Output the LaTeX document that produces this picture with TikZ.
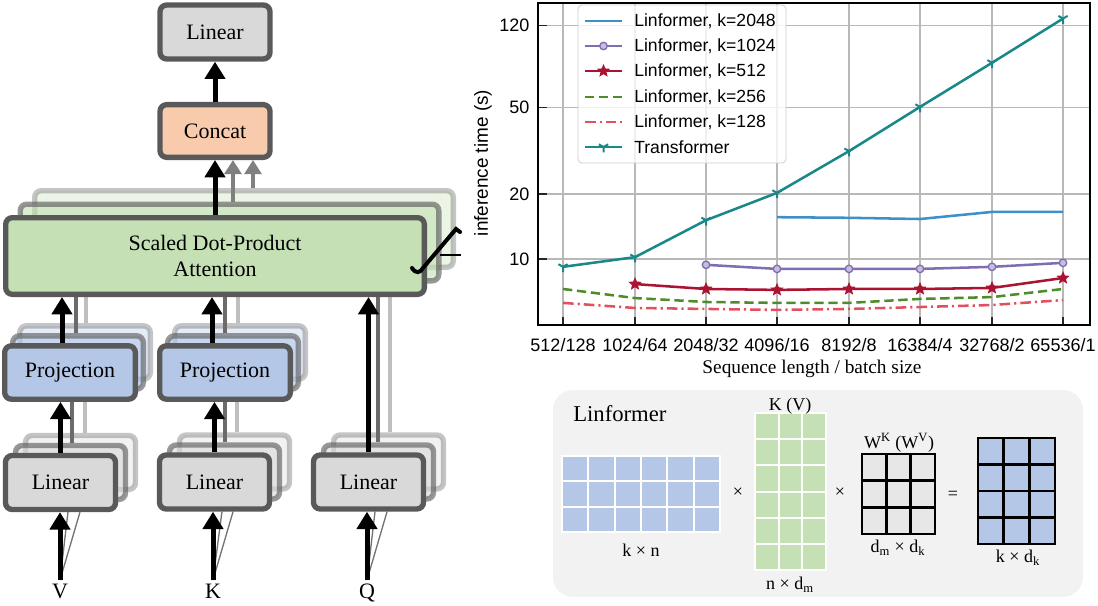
\documentclass[tikz,border=0pt]{standalone}
\usepackage{fontspec}
\setmainfont{Liberation Serif}
\newfontfamily\chartfont{Liberation Sans}
\usetikzlibrary{arrows.meta, plotmarks, backgrounds}
\definecolor{boxgray}{RGB}{89,89,89}
\definecolor{lingray}{RGB}{217,217,217}
\definecolor{concatorange}{RGB}{248,203,173}
\definecolor{attgreen}{RGB}{197,224,180}
\definecolor{projblue}{RGB}{180,199,231}
\definecolor{panelgray}{RGB}{242,242,242}
\definecolor{wgray}{RGB}{231,231,231}
\definecolor{transteal}{RGB}{26,135,137}
\definecolor{kblue}{RGB}{62,145,200}
\definecolor{kpurple}{RGB}{128,110,178}
\definecolor{kcrimson}{RGB}{170,20,50}
\definecolor{kgreen}{RGB}{77,140,40}
\definecolor{kpink}{RGB}{226,80,95}

% filled five-pointed star mark
\pgfdeclareplotmark{fstar}{%
  \pgfpathmoveto{\pgfpointpolar{90}{\pgfplotmarksize}}%
  \pgfpathlineto{\pgfpointpolar{126}{0.45\pgfplotmarksize}}%
  \pgfpathlineto{\pgfpointpolar{162}{\pgfplotmarksize}}%
  \pgfpathlineto{\pgfpointpolar{198}{0.45\pgfplotmarksize}}%
  \pgfpathlineto{\pgfpointpolar{234}{\pgfplotmarksize}}%
  \pgfpathlineto{\pgfpointpolar{270}{0.45\pgfplotmarksize}}%
  \pgfpathlineto{\pgfpointpolar{306}{\pgfplotmarksize}}%
  \pgfpathlineto{\pgfpointpolar{342}{0.45\pgfplotmarksize}}%
  \pgfpathlineto{\pgfpointpolar{18}{\pgfplotmarksize}}%
  \pgfpathlineto{\pgfpointpolar{54}{0.45\pgfplotmarksize}}%
  \pgfpathclose
  \pgfusepathqfillstroke}

\begin{document}
\begin{tikzpicture}[x=0.75pt, y=-0.75pt,
    declare function={ty(\v)=259-216.5*log10(\v/10);},
    blk/.style={draw=boxgray, line width=4pt, rounded corners=5pt, inner sep=0pt, align=center, font=\fontsize{16.5pt}{20pt}\selectfont},
    linbox/.style={blk, fill=lingray, minimum width=82.5pt, minimum height=40.5pt},
    concatbox/.style={blk, fill=concatorange, minimum width=82.5pt, minimum height=39.5pt},
    projbox/.style={blk, fill=projblue, minimum width=98pt, minimum height=40pt},
    attbox/.style={blk, fill=attgreen, minimum width=314pt, minimum height=57.5pt},
    back1/.style={opacity=0.62},
    back2/.style={opacity=0.35},
    inlbl/.style={anchor=north, inner sep=3pt, font=\fontsize{16.5pt}{20pt}\selectfont},
    arr/.style={line width=3.75pt, -{Triangle[width=15pt, length=13pt]}},
    garr/.style={draw=black!50, line width=3pt, -{Triangle[width=12.5pt, length=10.5pt]}},
    gline1/.style={draw=black!58, line width=2.8pt},
    gline2/.style={draw=black!25, line width=2.8pt},
    fan/.style={draw=black!55, line width=1pt},
    gridline/.style={draw=black!28, line width=1pt},
    frame/.style={draw=black, line width=1.3pt},
    tick/.style={draw=black!85, line width=1.1pt},
    ticklbl/.style={font=\chartfont\fontsize{13.5pt}{16pt}\selectfont, inner sep=1pt},
    leglbl/.style={font=\chartfont\fontsize{13.2pt}{16pt}\selectfont, anchor=west, inner sep=0pt},
    trans/.style={draw=transteal, line width=1.9pt, mark size=4pt, mark options={solid, line width=1.5pt}},
    k2048/.style={draw=kblue, line width=1.9pt},
    k1024/.style={draw=kpurple, line width=1.9pt, mark size=2.8pt, mark options={solid, fill=kpurple!45, line width=1pt}},
    k512/.style={draw=kcrimson, line width=1.9pt, mark size=4.2pt, mark options={solid, fill=kcrimson, line width=0.8pt}},
    k256/.style={draw=kgreen, line width=1.9pt, dash pattern=on 7pt off 3.5pt},
    k128/.style={draw=kpink, line width=1.9pt, dash pattern=on 8pt off 3pt on 1.6pt off 3pt},
    mlbl/.style={font=\fontsize{13.5pt}{16pt}\selectfont, inner sep=1pt},
    bcell/.style={fill=projblue, draw=white, line width=1.5pt},
    gcell/.style={fill=attgreen, draw=white, line width=1.5pt},
    wcell/.style={fill=wgray, draw=black, line width=1.8pt},
    rcell/.style={fill=projblue, draw=black, line width=1.8pt}
  ]
  \useasboundingbox (0,0) rectangle (1098,606);

  % Multi-head attention block
  \node[linbox] (lintop) at (215,32) {Linear};
  \node[concatbox] (concat) at (215,131) {Concat};
  \node[attbox] (att) at (215,256) {Scaled Dot-Product\\Attention};
  \node[projbox] (proj1) at (70,372.5) {Projection};
  \node[projbox] (proj2) at (225,372.5) {Projection};
  \node[linbox] (lin1) at (60.5,482.5) {Linear};
  \node[linbox] (lin2) at (214.5,482) {Linear};
  \node[linbox] (lin3) at (368.5,482) {Linear};
  \node[inlbl] (vin) at (60,580) {V};
  \node[inlbl] (kin) at (213,580) {K};
  \node[inlbl] (qin) at (367,580) {Q};

  % stacked heads behind the front boxes
  \begin{scope}[on background layer]
    \node[attbox, back2] (att2) at ([shift={(29,-27)}]att.center) {};
    \node[attbox, back1] (att1) at ([shift={(14.5,-13.5)}]att.center) {};
    \foreach \p in {proj1, proj2} {
      \node[projbox, back2] (\p c) at ([shift={(15,-20)}]\p.center) {};
      \node[projbox, back1] (\p b) at ([shift={(8,-10)}]\p.center) {};
    }
    \foreach \l in {lin1, lin2, lin3} {
      \node[linbox, back2] (\l c) at ([shift={(20,-20)}]\l.center) {};
      \node[linbox, back1] (\l b) at ([shift={(10,-10)}]\l.center) {};
    }
    \draw[gline1] ([xshift=1.1pt]lin1b.north) -- ([xshift=1.1pt]lin1b.north |- proj1.south);
    \draw[gline2] ([xshift=3.4pt]lin1c.north) -- ([xshift=3.4pt]lin1c.north |- proj1.south);
    \draw[gline1] ([xshift=-1.5pt]proj1b.north) -- ([xshift=-1.5pt]proj1b.north |- att.south);
    \draw[gline2] ([xshift=0.75pt]proj1c.north) -- ([xshift=0.75pt]proj1c.north |- att.south);
    \draw[gline1] ([xshift=0.4pt]lin2b.north) -- ([xshift=0.4pt]lin2b.north |- proj2.south);
    \draw[gline2] ([xshift=1.9pt]lin2c.north) -- ([xshift=1.9pt]lin2c.north |- proj2.south);
    \draw[gline1] ([xshift=-6pt]proj2b.north) -- ([xshift=-6pt]proj2b.north |- att.south);
    \draw[gline2] ([xshift=-1.5pt]proj2c.north) -- ([xshift=-1.5pt]proj2c.north |- att.south);
    \draw[gline1] ([xshift=-0.4pt]lin3b.north) -- ([xshift=-0.4pt]lin3b.north |- att.south);
    \draw[gline2] ([xshift=1.1pt]lin3c.north) -- ([xshift=1.1pt]lin3c.north |- att.south);
    \draw[garr] ([xshift=2.6pt]att1.north) -- ([xshift=2.6pt]att1.north |- concat.south);
    \draw[garr] ([xshift=6.75pt]att2.north) -- ([xshift=6.75pt]att2.north |- concat.south);
    % inputs fan out to every head
    \draw[fan] (vin.north) -- ([xshift=5.6pt]lin1.south);
    \draw[fan] (vin.north) -- ([xshift=14.6pt]lin1.south);
    \draw[fan] (kin.north) -- ([xshift=5.6pt]lin2.south);
    \draw[fan] (kin.north) -- ([xshift=13.9pt]lin2.south);
    \draw[fan] (qin.north) -- ([xshift=4.9pt]lin3.south);
    \draw[fan] (qin.north) -- ([xshift=13.9pt]lin3.south);
  \end{scope}

  % Arrows
  \draw[arr] (vin.north) -- (vin.north |- lin1.south);
  \draw[arr] (lin1.north) -- (lin1.north |- proj1.south);
  \draw[arr] ([xshift=-6pt]proj1.north) -- ([xshift=-6pt]proj1.north |- att.south);
  \draw[arr] (kin.north) -- (kin.north |- lin2.south);
  \draw[arr] (lin2.north) -- (lin2.north |- proj2.south);
  \draw[arr] ([xshift=-9.75pt]proj2.north) -- ([xshift=-9.75pt]proj2.north |- att.south);
  \draw[arr] (qin.north) -- (qin.north |- lin3.south);
  \draw[arr] (lin3.north) -- (lin3.north |- att.south);
  \draw[arr] (att.north) -- (concat.south);
  \draw[arr] (concat.north) -- (lintop.south);

  % head count mark
  \draw[line width=3pt, line cap=round] (412,268) .. controls (416,274) and (420,273) .. (423,268) -- (456,229) -- (460,232);
  \draw[line width=1.5pt] (440,255) -- (461,255);

  % Inference time chart
  \foreach \gx in {563,635,706,777,849,920,992,1063}
    \draw[gridline] (\gx,3) -- (\gx,325);
  \foreach \gv in {10,20,50,120}
    \draw[gridline] (538,{ty(\gv)}) -- (1090,{ty(\gv)});
  \foreach \gx/\sq/\bs in {563/512/128, 635/1024/64, 706/2048/32, 777/4096/16, 849/8192/8, 920/16384/4, 992/32768/2, 1063/65536/1} {
    \draw[tick] (\gx,325) -- (\gx,317);
    \node[ticklbl] at (\gx,345) {\sq/\bs};
  }
  \foreach \gv in {10,20,50,120} {
    \draw[tick] (538,{ty(\gv)}) -- (547,{ty(\gv)});
    \node[ticklbl, anchor=east] at (531,{ty(\gv)}) {\gv};
  }
  \node[ticklbl, rotate=90, font=\chartfont\fontsize{14.2pt}{17pt}\selectfont] (ylab) at (483,163) {inference time (s)};
  \node[font=\fontsize{14.5pt}{17pt}\selectfont] (xlab) at (812,369) {Sequence length / batch size};

  \draw[k128] plot coordinates {(563,{ty(6.27)}) (635,{ty(5.94)}) (706,{ty(5.88)}) (777,{ty(5.82)}) (849,{ty(5.88)}) (920,{ty(6.0)}) (992,{ty(6.13)}) (1063,{ty(6.46)})};
  \draw[k256] plot coordinates {(563,{ty(7.27)}) (635,{ty(6.6)}) (706,{ty(6.33)}) (777,{ty(6.27)}) (849,{ty(6.27)}) (920,{ty(6.54)}) (992,{ty(6.67)}) (1063,{ty(7.27)})};
  \draw[k512] plot[mark=fstar] coordinates {(635,{ty(7.66)}) (706,{ty(7.27)}) (777,{ty(7.2)}) (849,{ty(7.27)}) (920,{ty(7.27)}) (992,{ty(7.35)}) (1063,{ty(8.17)})};
  \draw[k1024] plot[mark=*] coordinates {(706,{ty(9.4)}) (777,{ty(9.0)}) (849,{ty(9.0)}) (920,{ty(9.0)}) (992,{ty(9.2)}) (1063,{ty(9.6)})};
  \draw[k2048] plot coordinates {(777,{ty(15.6)}) (849,{ty(15.5)}) (920,{ty(15.3)}) (992,{ty(16.5)}) (1063,{ty(16.5)})};
  \draw[trans] plot[mark=Mercedes star flipped] coordinates {(563,{ty(9.2)}) (635,{ty(10.2)}) (706,{ty(15.1)}) (777,{ty(20.2)}) (849,{ty(31.5)}) (920,{ty(50.4)}) (992,{ty(80.6)}) (1063,{ty(129)})};
  \draw[frame] (538,3) rectangle (1090,325);

  % Legend
  \filldraw[fill=white, fill opacity=0.8, draw=black!20, line width=0.6pt, rounded corners=3pt] (578,5) rectangle (786,163);
  \draw[k2048] (585,21) -- (622,21);
  \draw[k1024] plot[mark=*, mark phase=2, mark repeat=3] coordinates {(585,46) (603.5,46) (622,46)};
  \draw[k512] plot[mark=fstar, mark phase=2, mark repeat=3] coordinates {(585,71) (603.5,71) (622,71)};
  \draw[k256] (585,97) -- (622,97);
  \draw[k128] (585,122) -- (622,122);
  \draw[trans] plot[mark=Mercedes star flipped, mark phase=2, mark repeat=3] coordinates {(585,147) (603.5,147) (622,147)};
  \node[leglbl] (l2048) at (634,21) {Linformer, k=2048};
  \node[leglbl] (l1024) at (634,46) {Linformer, k=1024};
  \node[leglbl] (l512) at (634,71) {Linformer, k=512};
  \node[leglbl] (l256) at (634,97) {Linformer, k=256};
  \node[leglbl] (l128) at (634,122) {Linformer, k=128};
  \node[leglbl] (ltr) at (634,147) {Transformer};

  % Linformer projection panel
  \fill[panelgray, rounded corners=15pt] (553,390) rectangle (1083,597);
  \node[font=\fontsize{17pt}{20pt}\selectfont, anchor=base west, inner sep=0pt] (linf) at (573,421) {Linformer};
  \foreach \i in {0,...,5}
    \foreach \j in {0,1,2}
      \draw[bcell] ({562+26.33*\i},{456+25.33*\j}) rectangle ++(26.33,25.33);
  \foreach \i in {0,1,2}
    \foreach \j in {0,...,5}
      \draw[gcell] ({755+23.67*\i},{413+26.17*\j}) rectangle ++(23.67,26.17);
  \foreach \i in {0,1,2}
    \foreach \j in {0,1,2}
      \draw[wcell] ({862+24.33*\i},{454+26.67*\j}) rectangle ++(24.33,26.67);
  \foreach \i in {0,1,2}
    \foreach \j in {0,...,3}
      \draw[rcell] ({978+25.67*\i},{438+26.5*\j}) rectangle ++(25.67,26.5);
  \node[mlbl] (kn) at (641,550) {k × n};
  \node[mlbl] (x1) at (738,493) {×};
  \node[mlbl] (kv) at (790,406) {K (V)};
  \node[mlbl] (ndm) at (790,585) {n × d\textsubscript{m}};
  \node[mlbl] (x2) at (840,493) {×};
  \node[mlbl] (wkv) at (899,443) {W\textsuperscript{K} (W\textsuperscript{V})};
  \node[mlbl] (dmdk) at (898,548) {d\textsubscript{m} × d\textsubscript{k}};
  \node[mlbl] (eq) at (953,495) {=};
  \node[mlbl] (kdk) at (1018,558) {k × d\textsubscript{k}};
\end{tikzpicture}
\end{document}
